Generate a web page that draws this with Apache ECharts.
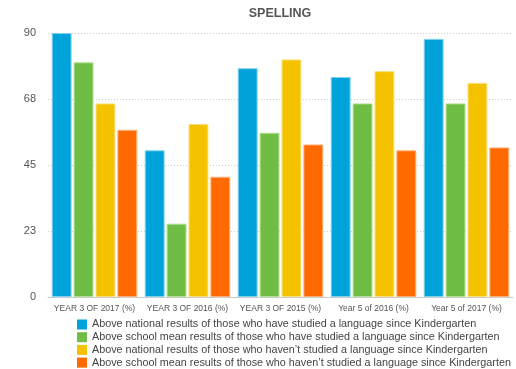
<!DOCTYPE html>
<html>
<head>
<meta charset="utf-8">
<script src="https://cdn.jsdelivr.net/npm/echarts@6/dist/echarts.min.js"></script>
<style>
  html, body { margin: 0; padding: 0; background: #fff; }
  #chart { width: 516px; height: 369px; }
</style>
</head>
<body>
<div id="chart"></div>
<script>
// Spelling results by cohort
const categories = ['YEAR 3 OF 2017 (%)', 'YEAR 3 OF 2016 (%)', 'YEAR 3 OF 2015 (%)', 'Year 5 of 2016 (%)', 'Year 5 of 2017 (%)'];
const seriesNames = [
  'Above national results of those who have studied a language since Kindergarten',
  'Above school mean results of those who have studied a language since Kindergarten',
  'Above national results of those who haven\u2019t studied a language since Kindergarten',
  'Above school mean results of those who haven\u2019t studied a language since Kindergarten'
];
const nationalStudied = [90, 50, 78, 75, 88];
const schoolStudied = [80, 25, 56, 66, 66];
const nationalNotStudied = [66, 59, 81, 77, 73];
const schoolNotStudied = [57, 41, 52, 50, 51];

const values = [nationalStudied, schoolStudied, nationalNotStudied, schoolNotStudied];
const colors = ['#00a3d9', '#6fbd45', '#f5c200', '#ff6a00'];
const borders = ['#7fd3f0', '#b3e08f', '#fbe07a', '#ffb07a'];

const chart = echarts.init(document.getElementById('chart'));
chart.setOption({
  animation: false,
  title: {
    text: 'SPELLING',
    left: 280,
    textAlign: 'center',
    top: 7,
    padding: 0,
    textStyle: { fontFamily: 'Liberation Sans', fontSize: 12.5, fontWeight: 'bold', color: '#555' }
  },
  legend: {
    orient: 'vertical',
    left: 77,
    top: 319,
    padding: 0,
    height: 60,
    itemWidth: 10,
    itemHeight: 10,
    itemGap: 1.7,
    icon: 'rect',
    itemStyle: { borderWidth: 0 },
    textStyle: { fontFamily: 'Liberation Sans', fontSize: 10.8, color: '#444', padding: [0, 0, 0, 0] },
    data: seriesNames
  },
  grid: { left: 48, right: 3, top: 33, bottom: 72 },
  xAxis: {
    type: 'category',
    data: categories,
    axisLine: { lineStyle: { color: '#ccc' } },
    axisTick: { show: false },
    axisLabel: { fontFamily: 'Liberation Sans', fontSize: 8.5, color: '#555', margin: 7, interval: 0 }
  },
  yAxis: {
    type: 'value',
    min: 0,
    max: 90,
    interval: 22.5,
    axisLine: { show: false },
    axisTick: { show: false },
    axisLabel: {
      fontFamily: 'Liberation Sans', fontSize: 11, color: '#555', margin: 12,
      formatter: v => String(Math.round(v))
    },
    splitLine: { lineStyle: { color: '#ccc', type: [1, 2] } }
  },
  series: values.map((d, i) => ({
    name: seriesNames[i],
    type: 'bar',
    data: d,
    barGap: '10%',
    barCategoryGap: '8%',
    itemStyle: { color: colors[i], borderColor: borders[i], borderWidth: 1 }
  }))
});
</script>
</body>
</html>
